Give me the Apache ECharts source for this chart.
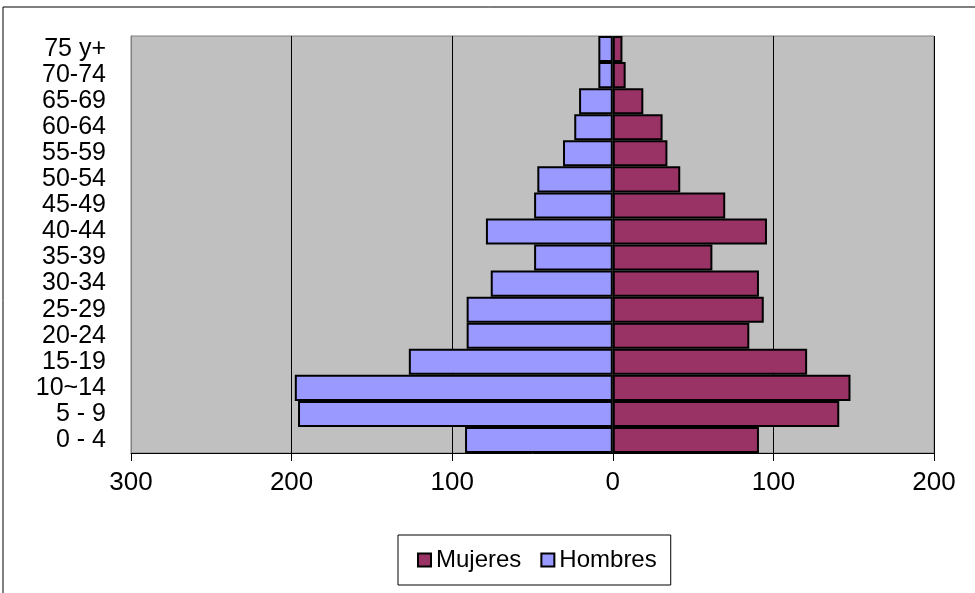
<!DOCTYPE html>
<html>
<head>
<meta charset="utf-8">
<script src="https://cdn.jsdelivr.net/npm/echarts@6/dist/echarts.min.js"></script>
<style>
  html, body { margin: 0; padding: 0; background: #fff; }
  #chart { width: 975px; height: 593px; }
</style>
</head>
<body>
<div id="chart"></div>
<script>
// age groups, bottom to top
const ageGroups = ['0 - 4', '5 - 9', '10~14', '15-19', '20-24', '25-29', '30-34', '35-39',
  '40-44', '45-49', '50-54', '55-59', '60-64', '65-69', '70-74', '75 y+'];
const hombres = [92, 196, 198, 127, 91, 91, 76, 49, 79, 49, 47, 31, 24, 21, 9, 9];
const mujeres = [91, 141, 148, 121, 85, 94, 91, 62, 96, 70, 42, 34, 31, 19, 8, 6];
const xTickLabels = ['300', '200', '100', '0', '100', '200'];

const chart = echarts.init(document.getElementById('chart'));

chart.setOption({
  animation: false,
  textStyle: { fontFamily: 'Liberation Sans, Arial, sans-serif' },
  graphic: [{
    type: 'rect',
    shape: { x: 3, y: 7, width: 990, height: 600 },
    style: { fill: 'none', stroke: '#000', lineWidth: 1 },
    silent: true
  }],
  grid: {
    left: 131, right: 41, top: 36, bottom: 140,
    show: true,
    backgroundColor: '#C0C0C0',
    borderColor: '#808080',
    borderWidth: 1
  },
  legend: {
    data: ['Mujeres', 'Hombres'],
    left: 398,
    top: 535,
    padding: [13, 14, 13, 19],
    borderColor: '#000',
    borderWidth: 1,
    itemWidth: 13,
    itemHeight: 13,
    itemGap: 19,
    icon: 'rect',
    itemStyle: { borderColor: '#000', borderWidth: 2 },
    textStyle: { fontSize: 24, color: '#000' }
  },
  xAxis: {
    type: 'value',
    min: -300,
    max: 200,
    interval: 100,
    axisLine: { show: true, lineStyle: { color: '#000', width: 1 } },
    axisTick: { show: true, length: 8, lineStyle: { color: '#000' } },
    splitLine: { show: true, lineStyle: { color: '#000', width: 1 } },
    axisLabel: {
      fontSize: 26,
      color: '#000',
      margin: 17,
      formatter: function (v) {
        return xTickLabels[Math.round((v + 300) / 100)];
      }
    }
  },
  yAxis: {
    type: 'category',
    data: ageGroups,
    axisLine: { show: true, onZero: false, lineStyle: { color: '#808080' } },
    axisTick: { show: false },
    axisLabel: { fontSize: 25, color: '#000', margin: 25, interval: 0, hideOverlap: false }
  },
  series: [
    {
      name: 'Hombres',
      type: 'bar',
      stack: 'pop',
      barCategoryGap: '0%',
      data: hombres.map(v => -v),
      itemStyle: { color: '#9999FF', borderColor: '#000', borderWidth: 2 }
    },
    {
      name: 'Mujeres',
      type: 'bar',
      stack: 'pop',
      barCategoryGap: '0%',
      data: mujeres,
      itemStyle: { color: '#993366', borderColor: '#000', borderWidth: 2 }
    }
  ]
});
</script>
</body>
</html>
